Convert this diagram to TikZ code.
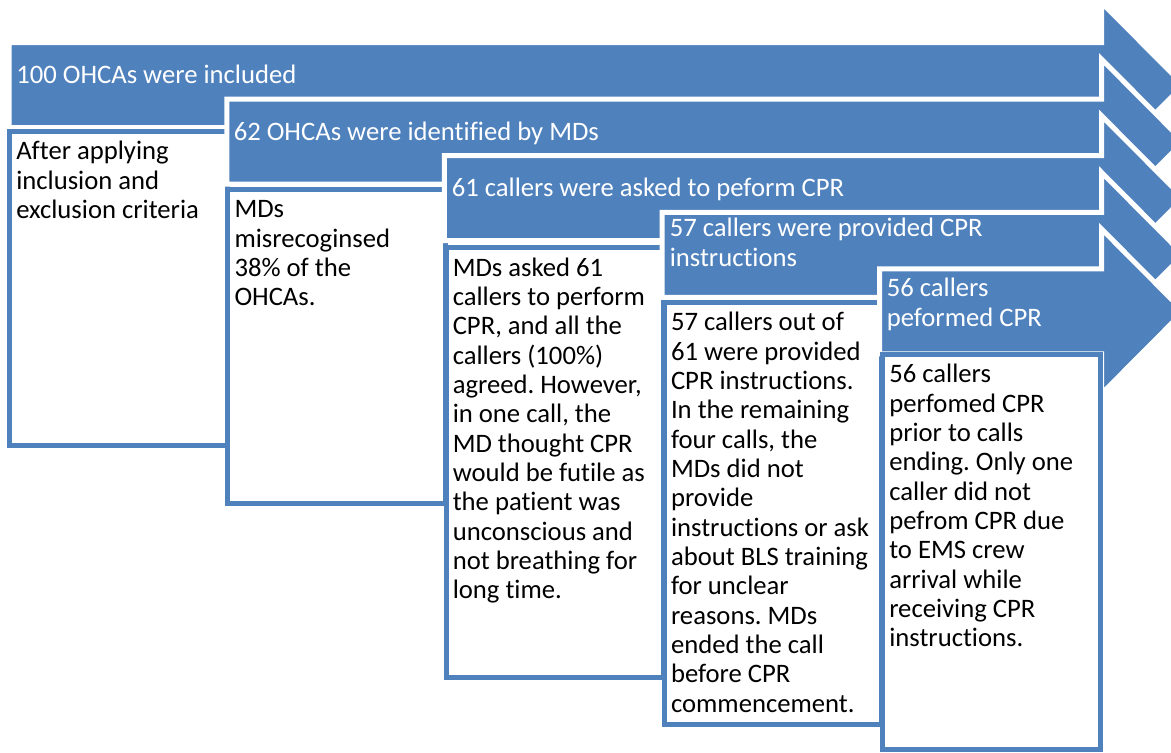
\documentclass[tikz,border=0pt]{standalone}
\usepackage{fontspec}
\setmainfont{Carlito}[Ligatures={NoCommon}]
\definecolor{accent}{RGB}{79,129,189}
\tikzset{
  stepshape/.style={fill=accent, draw=white, line width=3.75pt, line join=miter},
  boxshape/.style={fill=white, draw=accent, line width=3.75pt},
  headtext/.style={anchor=north west, inner sep=0pt, text=white, align=left,
    font=\fontsize{20}{22.5}\selectfont\frenchspacing},
  bodytext/.style={anchor=north west, inner sep=0pt, text=black, align=left,
    font=\fontsize{20}{22}\selectfont\frenchspacing},
}
\begin{document}
\begin{tikzpicture}[x=0.75pt,y=-0.75pt]
\useasboundingbox (0,0) rectangle (1171,753);
\clip (0,0) rectangle (1171,753);

% five descending step arrows, each followed by its description box
\foreach \i/\bt/\bb in {0/131/445, 1/189/503, 2/247.5/677.5, 3/302/724, 4/354/749}{
  \pgfmathsetmacro{\L}{9.2+217.6*\i}
  \pgfmathsetmacro{\T}{42.5+56.6*\i}
  \path[stepshape] (\L,\T) -- (1101.5,\T) -- (1101.5,\T-40) -- (1183.5,\T+42.5)
     -- (1101.5,\T+125) -- (1101.5,\T+85) -- (\L,\T+85) -- cycle;
  \pgfmathsetmacro{\BL}{9.5+218.25*\i}
  \path[boxshape] (\BL,\bt) rectangle (\BL+217.5,\bb);
}

% step titles
\node[headtext] (h1) at (16,62.3) {\strut 100 OHCAs were included};
\node[headtext] (h2) at (233.5,119) {\strut 62 OHCAs were identified by MDs};
\node[headtext] (h3) at (451.5,175) {\strut 61 callers were asked to peform CPR};
\node[headtext] (h4) at (669.5,215.7) {\strut 57 callers were provided CPR\\instructions};
\node[headtext] (h5) at (886.5,275.7) {\strut 56 callers\\peformed CPR};

% step descriptions
\node[bodytext] (b1) at (16,139) {\strut After applying\\inclusion and\\exclusion criteria};
\node[bodytext] (b2) at (234.25,197) {\strut MDs\\misrecoginsed\\38\% of the\\OHCAs.};
\node[bodytext] (b3) at (452.5,255.5) {\strut MDs asked 61\\callers to perform\\CPR, and all the\\callers (100\%)\\agreed. However,\\in one call, the\\MD thought CPR\\would be futile as\\the patient was\\unconscious and\\not breathing for\\long time.};
\node[bodytext] (b4) at (670.75,310) {\strut 57 callers out of\\61 were provided\\CPR instructions.\\In the remaining\\four calls, the\\MDs did not\\provide\\instructions or ask\\about BLS training\\for unclear\\reasons. MDs\\ended the call\\before CPR\\commencement.};
\node[bodytext] (b5) at (889,362) {\strut 56 callers\\perfomed CPR\\prior to calls\\ending. Only one\\caller did not\\pefrom CPR due\\to EMS crew\\arrival while\\receiving CPR\\instructions.};
\end{tikzpicture}
\end{document}
